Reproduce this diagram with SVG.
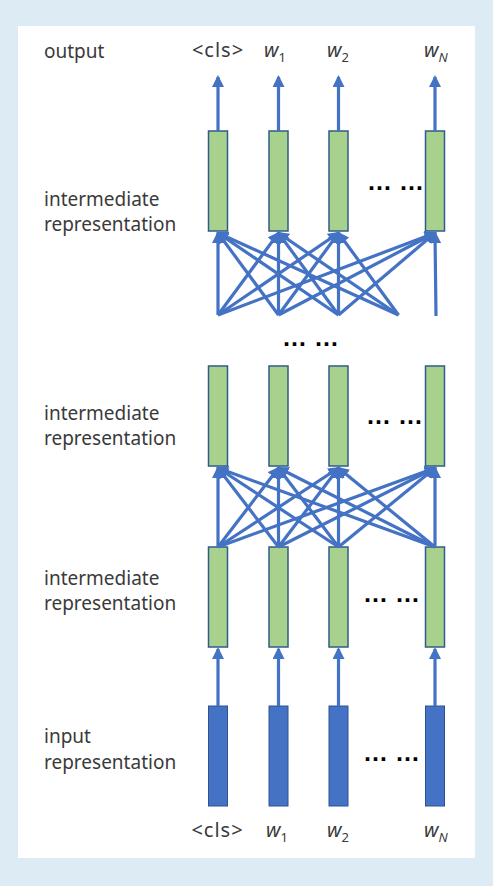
<svg xmlns="http://www.w3.org/2000/svg" width="493" height="886" viewBox="0 0 493 886">
<style>
.lbl{font-family:"Noto Sans","Liberation Sans",sans-serif;font-size:19px;fill:#3a3a3a}
.tok{font-family:"Noto Sans","Liberation Sans",sans-serif;font-size:20px;fill:#3a3a3a}
.cls{letter-spacing:1px}
.w{font-style:italic}
.sub{font-size:13px;font-style:normal}
.subi{font-size:13px;font-style:italic}
.dots{font-family:"Liberation Sans",Arial,sans-serif;font-size:25px;font-weight:bold;fill:#000}
.g{fill:#A9D18E;stroke:#2F5C8A;stroke-width:1.5}
.b{fill:#4472C4;stroke:#2F528F;stroke-width:1}
.c line{stroke:#4472C4;stroke-width:3.2;marker-end:url(#ah)}
</style>
<defs>
<marker id="ah" markerUnits="userSpaceOnUse" markerWidth="12" markerHeight="12" viewBox="0 0 12 12" refX="10" refY="6" orient="auto">
<path d="M0,0 L12,6 L0,12 z" fill="#4472C4"/>
</marker>
</defs>
<rect x="0" y="0" width="493" height="886" fill="#DDEBF4"/>
<rect x="18" y="26" width="457" height="832" fill="#FFFFFF"/>

<g id="labels">
<text class="lbl" x="44" y="58">output</text>
<text class="lbl" x="44" y="206">intermediate</text>
<text class="lbl" x="44" y="231">representation</text>
<text class="lbl" x="44" y="420">intermediate</text>
<text class="lbl" x="44" y="445">representation</text>
<text class="lbl" x="44" y="585">intermediate</text>
<text class="lbl" x="44" y="610">representation</text>
<text class="lbl" x="44" y="743">input</text>
<text class="lbl" x="44" y="769">representation</text>
</g>

<g id="output-tokens">
<text class="tok cls" x="218" y="57" text-anchor="middle">&lt;cls&gt;</text>
<text class="tok w" x="264" y="57">w<tspan class="sub" dy="5">1</tspan></text>
<text class="tok w" x="327" y="57">w<tspan class="sub" dy="5">2</tspan></text>
<text class="tok w" x="424" y="57">w<tspan class="subi" dy="5">N</tspan></text>
</g>

<g id="input-tokens">
<text class="tok cls" x="217.5" y="837" text-anchor="middle">&lt;cls&gt;</text>
<text class="tok w" x="266" y="837">w<tspan class="sub" dy="5">1</tspan></text>
<text class="tok w" x="327" y="837">w<tspan class="sub" dy="5">2</tspan></text>
<text class="tok w" x="424" y="837">w<tspan class="subi" dy="5">N</tspan></text>
</g>

<g id="layer-top">
<rect class="g" x="208.5" y="131" width="19" height="100"/>
<rect class="g" x="269" y="131" width="19" height="100"/>
<rect class="g" x="329" y="131" width="19" height="100"/>
<rect class="g" x="425.5" y="131" width="19" height="100"/>
<text class="dots" x="367" y="190">… …</text>
</g>

<g id="layer-mid-dots">
<text class="dots" x="282" y="346">… …</text>
</g>

<g id="layer-2">
<rect class="g" x="208.5" y="366" width="19" height="100"/>
<rect class="g" x="269" y="366" width="19" height="100"/>
<rect class="g" x="329" y="366" width="19" height="100"/>
<rect class="g" x="425.5" y="366" width="19" height="100"/>
<text class="dots" x="366" y="424">… …</text>
</g>

<g id="layer-3">
<rect class="g" x="208.5" y="547" width="19" height="100"/>
<rect class="g" x="269" y="547" width="19" height="100"/>
<rect class="g" x="329" y="547" width="19" height="100"/>
<rect class="g" x="425.5" y="547" width="19" height="100"/>
<text class="dots" x="363" y="602">… …</text>
</g>

<g id="layer-input">
<rect class="b" x="208.5" y="706" width="19" height="100"/>
<rect class="b" x="269" y="706" width="19" height="100"/>
<rect class="b" x="329" y="706" width="19" height="100"/>
<rect class="b" x="425.5" y="706" width="19" height="100"/>
<text class="dots" x="363" y="761">… …</text>
</g>

<g id="connectors" class="c">
<line x1="218" y1="131" x2="218" y2="77"/>
<line x1="278.5" y1="131" x2="278.5" y2="77"/>
<line x1="338.5" y1="131" x2="338.5" y2="77"/>
<line x1="435" y1="131" x2="435" y2="77"/>
<line x1="218" y1="315" x2="218" y2="233"/>
<line x1="218" y1="315" x2="278.5" y2="233"/>
<line x1="218" y1="315" x2="338.5" y2="233"/>
<line x1="218" y1="315" x2="435" y2="233"/>
<line x1="278.5" y1="315" x2="218" y2="233"/>
<line x1="278.5" y1="315" x2="278.5" y2="233"/>
<line x1="278.5" y1="315" x2="338.5" y2="233"/>
<line x1="278.5" y1="315" x2="435" y2="233"/>
<line x1="338.5" y1="315" x2="218" y2="233"/>
<line x1="338.5" y1="315" x2="278.5" y2="233"/>
<line x1="338.5" y1="315" x2="338.5" y2="233"/>
<line x1="338.5" y1="315" x2="435" y2="233"/>
<line x1="398.5" y1="315" x2="218" y2="233"/>
<line x1="398.5" y1="315" x2="278.5" y2="233"/>
<line x1="398.5" y1="315" x2="338.5" y2="233"/>
<line x1="436" y1="316" x2="435" y2="233"/>
<line x1="218" y1="547" x2="218" y2="468"/>
<line x1="218" y1="547" x2="278.5" y2="468"/>
<line x1="218" y1="547" x2="338.5" y2="468"/>
<line x1="218" y1="547" x2="435" y2="468"/>
<line x1="278.5" y1="547" x2="218" y2="468"/>
<line x1="278.5" y1="547" x2="278.5" y2="468"/>
<line x1="278.5" y1="547" x2="338.5" y2="468"/>
<line x1="278.5" y1="547" x2="435" y2="468"/>
<line x1="338.5" y1="547" x2="218" y2="468"/>
<line x1="338.5" y1="547" x2="278.5" y2="468"/>
<line x1="338.5" y1="547" x2="338.5" y2="468"/>
<line x1="338.5" y1="547" x2="435" y2="468"/>
<line x1="435" y1="547" x2="218" y2="468"/>
<line x1="435" y1="547" x2="278.5" y2="468"/>
<line x1="435" y1="547" x2="338.5" y2="468"/>
<line x1="435" y1="547" x2="435" y2="468"/>
<line x1="218" y1="706" x2="218" y2="649"/>
<line x1="278.5" y1="706" x2="278.5" y2="649"/>
<line x1="338.5" y1="706" x2="338.5" y2="649"/>
<line x1="435" y1="706" x2="435" y2="649"/>
</g>
</svg>
